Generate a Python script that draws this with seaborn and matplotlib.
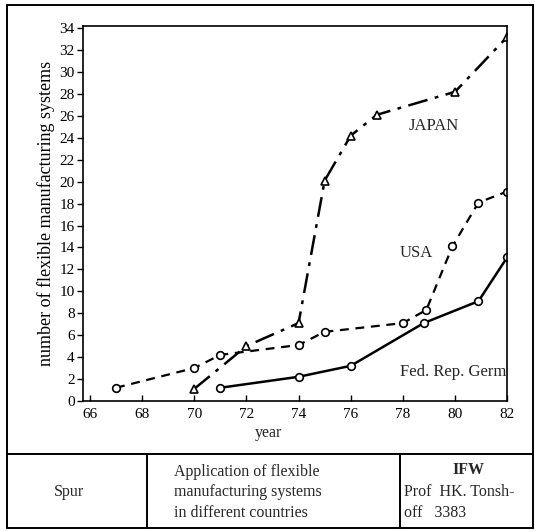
import matplotlib
matplotlib.use("Agg")
import matplotlib.pyplot as plt
import seaborn as sns
import pandas as pd
from matplotlib.lines import Line2D

# values
japan_years = [70, 72, 74, 75, 76, 77, 80, 82]
japan_fms = [1.1, 5.0, 7.1, 20.1, 24.2, 26.1, 28.2, 33.2]

usa_years = [67, 70, 71, 74, 75, 78, 78.9, 79.9, 80.9, 82]
usa_fms = [1.2, 3.0, 4.2, 5.1, 6.3, 7.1, 8.3, 14.1, 18.1, 19.1]

germ_years = [71, 74, 76, 78.8, 80.9, 82]
germ_fms = [1.2, 2.2, 3.2, 7.1, 9.1, 13.1]

x_ticks = list(range(66, 83, 2))
y_ticks = list(range(0, 35, 2))

sns.set_theme(style="white")
plt.rcParams['font.family'] = ['Liberation Serif', 'DejaVu Serif']

fig = plt.figure(figsize=(5.35, 5.31), dpi=100)
ax = fig.add_axes([0.155, 0.245, 0.793, 0.706])

marker_kw = dict(markersize=5.5, markerfacecolor='white',
                 markeredgecolor='black', markeredgewidth=1.2)

# Japan: dash-dot with triangles
sns.lineplot(x=japan_years, y=japan_fms, ax=ax, color='black', linewidth=1.8,
             linestyle=(0, (8, 3, 1.5, 3)), marker='^', **marker_kw)
# USA: dashed with circles
sns.lineplot(x=usa_years, y=usa_fms, ax=ax, color='black', linewidth=1.6,
             linestyle=(0, (4, 3)), marker='o', **marker_kw)
# Germany: solid with circles
sns.lineplot(x=germ_years, y=germ_fms, ax=ax, color='black', linewidth=1.8,
             linestyle='-', marker='o', **marker_kw)

ax.set_xlim(65.73, 82)
ax.set_ylim(0, 34.2)
ax.set_xticks(x_ticks)
ax.set_yticks(y_ticks)
ax.tick_params(axis='x', direction='in', length=4, width=1, labelsize=11, pad=5,
               colors='black', bottom=True)
ax.tick_params(axis='y', direction='out', length=4, width=1, labelsize=11, pad=2,
               colors='black', left=True)
for s in ax.spines.values():
    s.set_color('black')
    s.set_linewidth(1.2)

ax.set_xlabel('')
ax.set_ylabel('number of flexible manufacturing systems', fontsize=13,
              color='black', labelpad=3)

ax.text(79.2, 25.1, 'JAPAN', fontsize=12, ha='center', va='center')
ax.text(78.5, 13.5, 'USA', fontsize=12, ha='center', va='center')
ax.text(81.95, 2.6, 'Fed. Rep. Germ', fontsize=12, ha='right', va='center')

W, H = 535, 531


def fx(px):
    return px / W


def fy(py):
    return 1 - py / H


def hline(y, x0, x1, lw=1.4):
    fig.add_artist(Line2D([fx(x0), fx(x1)], [fy(y), fy(y)], color='black', lw=lw))


def vline(x, y0, y1, lw=1.4):
    fig.add_artist(Line2D([fx(x), fx(x)], [fy(y0), fy(y1)], color='black', lw=lw))


# outer frame and title block
hline(5, 7, 533)
hline(528, 7, 533)
vline(7, 5, 528)
vline(533, 5, 528)
hline(454, 7, 533)
vline(147, 454, 528)
vline(400, 454, 528)

fig.text(fx(268), fy(433), 'year', fontsize=11.5, ha='center', va='center')
fig.text(fx(69), fy(492), 'Spur', fontsize=11.5, ha='center', va='center')
fig.text(fx(174), fy(472), 'Application of flexible', fontsize=11.5, ha='left', va='center')
fig.text(fx(174), fy(492), 'manufacturing systems', fontsize=11.5, ha='left', va='center')
fig.text(fx(174), fy(513), 'in different countries', fontsize=11.5, ha='left', va='center')
fig.text(fx(468), fy(470), 'IFW', fontsize=11.5, ha='center', va='center', fontweight='bold')
fig.text(fx(404), fy(492), 'Prof  HK. Tonsh-', fontsize=11.5, ha='left', va='center')
fig.text(fx(404), fy(513), 'off   3383', fontsize=11.5, ha='left', va='center')

fig.savefig('out.png', dpi=100, facecolor='white')
